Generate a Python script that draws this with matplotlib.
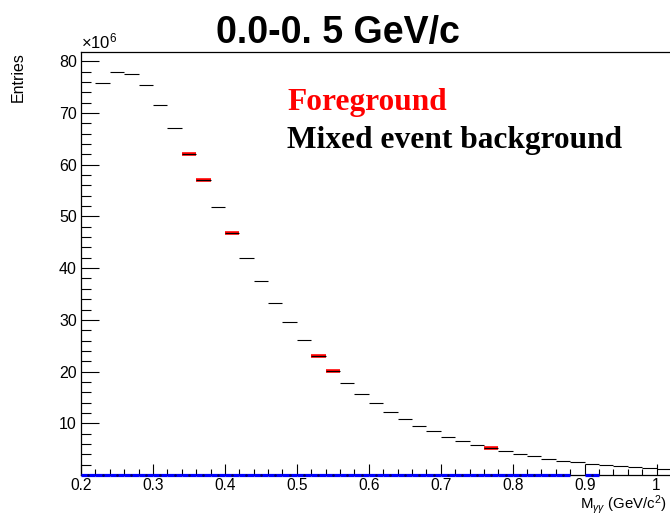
import numpy as np
import matplotlib
matplotlib.use("Agg")
import matplotlib.pyplot as plt
from matplotlib.ticker import MultipleLocator

plt.rcParams['font.family'] = ['Liberation Sans', 'DejaVu Sans']
plt.rcParams['mathtext.fontset'] = 'custom'
plt.rcParams['mathtext.rm'] = 'Liberation Sans'
plt.rcParams['mathtext.it'] = 'Liberation Sans:italic'

nan = np.nan
# bin lower edges (GeV/c^2), width 0.02
bin_lo = np.round(np.arange(0.20, 1.0001, 0.02), 2)
bin_w = 0.02

# Mixed event background (x1e6)
background = [nan, 75.8, 77.9, 77.5, 75.4, 71.6, 67.1, 62.1, 57.0, 51.9,
              46.8, 42.0, 37.6, 33.3, 29.5, 26.05, 23.0, 20.2, 17.8, 15.7,
              13.9, 12.25, 10.8, 9.55, 8.5, 7.4, 6.5, 5.75, 5.15, 4.7,
              4.0, 3.6, 3.1, 2.75, 2.55, 2.2, 1.95, 1.68, 1.5, 1.3, 1.1]
# Foreground (x1e6), only where visible beside background
foreground = [nan, nan, nan, nan, nan, nan, nan, 62.1, 57.0, nan,
              46.8, nan, nan, nan, nan, nan, 23.0, 20.2, nan, nan,
              nan, nan, nan, nan, nan, nan, nan, nan, 5.15, nan,
              nan, nan, nan, nan, nan, nan, nan, nan, nan, nan, nan]
# blue histogram near zero (x1e6)
lowhist = [0.05] * 34 + [nan, 0.05] + [nan] * 5

bg = np.array(background)
fg = np.array(foreground)
lo = np.array(lowhist)

W, H = 670, 515
fig = plt.figure(figsize=(6.7, 5.15), dpi=100)
ax = fig.add_axes([81 / W, 40 / H, (671 - 81) / W, (475 - 52) / H])

ax.hlines(fg, bin_lo, bin_lo + bin_w, colors='#ff0000', linewidth=2.6, zorder=2)
ax.hlines(bg, bin_lo, bin_lo + bin_w, colors='black', linewidth=0.8, zorder=3)
ax.hlines(lo, bin_lo, bin_lo + bin_w, colors='#0000ff', linewidth=2.3, zorder=5, clip_on=False)
ax.plot(bin_lo + bin_w / 2, lo, 'o', color='#000066', markersize=0.9, zorder=6, clip_on=False)

ax.set_xlim(0.2, 1.02)
ax.set_ylim(0, 81.8)

ax.xaxis.set_minor_locator(MultipleLocator(0.02))
ax.yaxis.set_minor_locator(MultipleLocator(2))

ax.set_xticks([0.2, 0.3, 0.4, 0.5, 0.6, 0.7, 0.8, 0.9, 1.0])
ax.set_xticklabels(['0.2', '0.3', '0.4', '0.5', '0.6', '0.7', '0.8', '0.9', '1'])
ax.set_yticks([10, 20, 30, 40, 50, 60, 70, 80])
ax.set_yticklabels(['10', '20', '30', '40', '50', '60', '70', '80'])

ax.tick_params(axis='x', which='major', direction='in', length=8, width=0.8,
               labelsize=11.2, pad=2.5, top=False)
ax.tick_params(axis='x', which='minor', direction='in', length=4, width=0.8, top=False)
ax.tick_params(axis='y', which='major', direction='in', length=13, width=0.8,
               labelsize=11.5, pad=3, right=False)
ax.tick_params(axis='y', which='minor', direction='in', length=7, width=0.8, right=False)

for s in ['left', 'top', 'bottom']:
    ax.spines[s].set_linewidth(0.9)
ax.spines['right'].set_visible(False)

# texts
fig.text(338.3 / W, 1 - 42.7 / H, '0.0-0. 5 GeV/c', ha='center', va='baseline',
         fontsize=27, fontweight='bold')
fig.text(81 / W, 1 - 48 / H, r'$\times$10$^{6}$', ha='left', va='baseline', fontsize=12)
fig.text(18.4 / W, 1 - 52 / H, 'Entries', rotation=90, ha='center', va='top', fontsize=11.5)
fig.text(667 / W, 1 - 508.5 / H, r'M$_{\gamma\gamma}$ (GeV/c$^{2}$)', ha='right', va='baseline',
         fontsize=10.8)

fig.text(287 / W, 1 - 110 / H, 'Foreground', ha='left', va='baseline', fontsize=22.6,
         fontweight='bold', color='#ff0000', family=['Liberation Serif', 'DejaVu Serif'])
fig.text(287 / W, 1 - 147.7 / H, 'Mixed event background', ha='left', va='baseline', fontsize=22.6,
         fontweight='bold', color='black', family=['Liberation Serif', 'DejaVu Serif'])

fig.savefig('out.png', dpi=100)
